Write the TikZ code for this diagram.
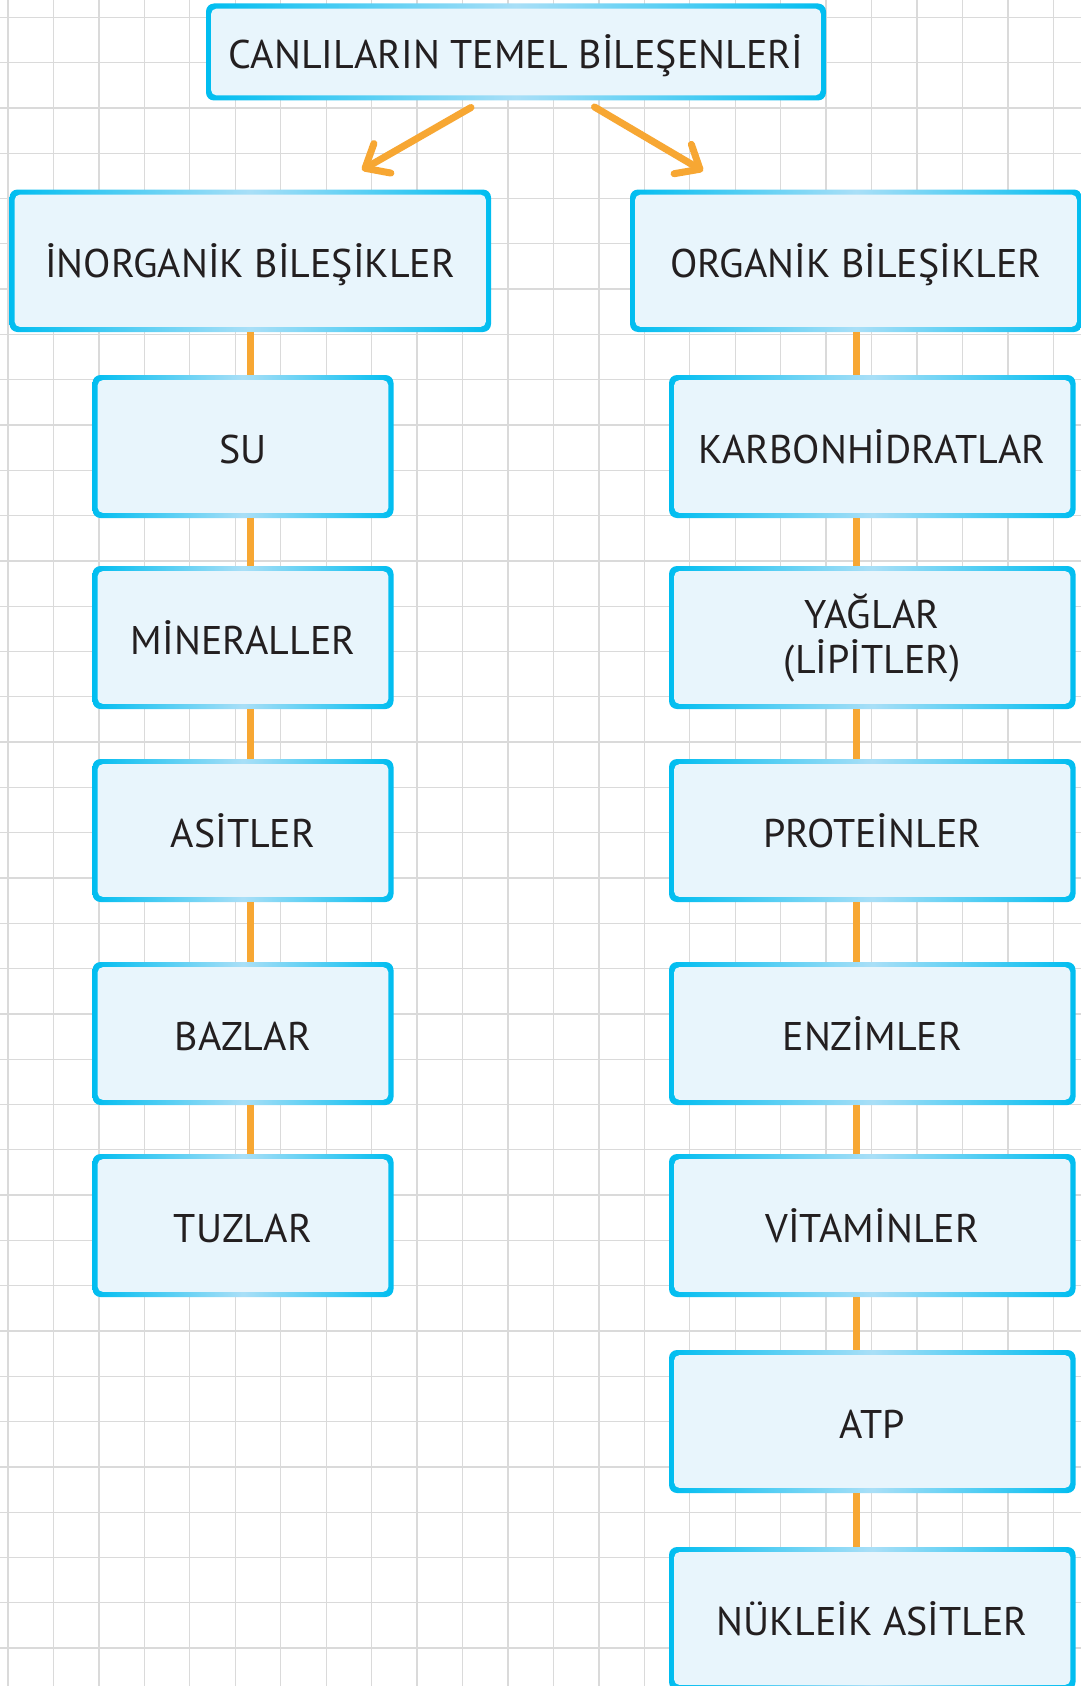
\documentclass[tikz,border=0pt]{standalone}
\usepackage{fontspec}
\setmainfont{PT Sans}
\usetikzlibrary{arrows.meta,calc}

\definecolor{gridgray}{HTML}{DADADA}
\definecolor{edgecyan}{HTML}{00BDF0}
\definecolor{edgelight}{HTML}{A9DFF7}
\definecolor{boxfill}{HTML}{E8F5FC}
\definecolor{linkorange}{HTML}{F7A733}
\definecolor{ink}{HTML}{231F20}

\tikzset{
  gridline/.style={draw=gridgray, line width=0.65pt},
  % rounded box: cyan frame fading to a lighter tint in the middle of the top and bottom edges
  cbox/.style={rectangle, rounded corners=4pt, inner sep=0pt, text=ink, align=center,
    font=\fontsize{20pt}{22.5pt}\selectfont,
    path picture={
      \shade[left color=edgecyan, right color=edgecyan, middle color=edgelight]
        (path picture bounding box.south west) rectangle (path picture bounding box.north east);
      \fill[boxfill, rounded corners=2.5pt]
        ([xshift=2.6pt,yshift=2.6pt]path picture bounding box.south west) rectangle
        ([xshift=-2.6pt,yshift=-2.6pt]path picture bounding box.north east);
    }},
  % one-line labels share the same line box, so capitals sit at the same height
  single/.style={text depth=0pt, execute at begin node={\vphantom{İ}}},
  leftbox/.style={cbox, single, minimum width=150.5pt, minimum height=71.5pt},
  rightframe/.style={cbox, minimum width=203.25pt, minimum height=71.5pt},
  rightbox/.style={rightframe, single},
  link/.style={draw=linkorange, line width=3.5pt},
  branch/.style={link, line cap=round, -{Straight Barb[length=10pt,width=17pt,round]}},
}

\begin{document}
\begin{tikzpicture}[x=0.5pt,y=-0.5pt]
  \useasboundingbox (0,0) rectangle (1081,1686);
  \fill[white] (0,0) rectangle (1081,1686);

  % squared paper
  \foreach \k in {0,...,23}
    \draw[gridline] ({8+45.45*\k},0) -- ({8+45.45*\k},1686);
  \foreach \k in {0,...,36}
    \draw[gridline] (0,{17.3+45.3*\k}) -- (1081,{17.3+45.3*\k});

  % title and the two main groups
  \node[cbox, single, minimum width=310pt, minimum height=48.5pt] (top) at (516,52) {CANLILARIN TEMEL BİLEŞENLERİ};
  \node[cbox, single, minimum width=240.75pt, minimum height=71.25pt] (inorg) at (250.25,260.75) {İNORGANİK BİLEŞİKLER};
  \node[cbox, single, minimum width=226pt, minimum height=71.25pt] (org) at (856,260.75) {ORGANİK BİLEŞİKLER};

  % inorganic compounds
  \node[leftbox] (su)   at (243,446.5)  {SU};
  \node[leftbox] (min)  at (243,637.5)  {MİNERALLER};
  \node[leftbox] (asit) at (243,830.5)  {ASİTLER};
  \node[leftbox] (baz)  at (243,1033.5) {BAZLAR};
  \node[leftbox] (tuz)  at (243,1225.5) {TUZLAR};

  % organic compounds
  \node[rightbox]   (karb) at (872.25,446.5)  {KARBONHİDRATLAR};
  \node[rightframe] (yag)  at (872.25,637.5)  {YAĞLAR\\(LİPİTLER)};
  \node[rightbox]   (prot) at (872.25,830.5)  {PROTEİNLER};
  \node[rightbox]   (enz)  at (872.25,1033.5) {ENZİMLER};
  \node[rightbox]   (vit)  at (872.25,1225.5) {VİTAMİNLER};
  \node[rightbox]   (atp)  at (872.25,1421.5) {ATP};
  \node[rightbox]   (nuk)  at (872.25,1618.5) {NÜKLEİK ASİTLER};

  % branching arrows below the title
  \coordinate (ls) at (471,107.5);
  \coordinate (le) at (362,170);
  \coordinate (rs) at (594.5,107);
  \coordinate (re) at (703,171);
  \draw[branch] (ls) -- (le);
  \draw[branch] (rs) -- (re);

  % vertical links
  \foreach \a/\b in {inorg/su, su/min, min/asit, asit/baz, baz/tuz}
    \draw[link] (inorg.south |- \a.south) -- (inorg.south |- \b.north);
  \foreach \a/\b in {org/karb, karb/yag, yag/prot, prot/enz, enz/vit, vit/atp, atp/nuk}
    \draw[link] (org.south |- \a.south) -- (org.south |- \b.north);
\end{tikzpicture}
\end{document}
